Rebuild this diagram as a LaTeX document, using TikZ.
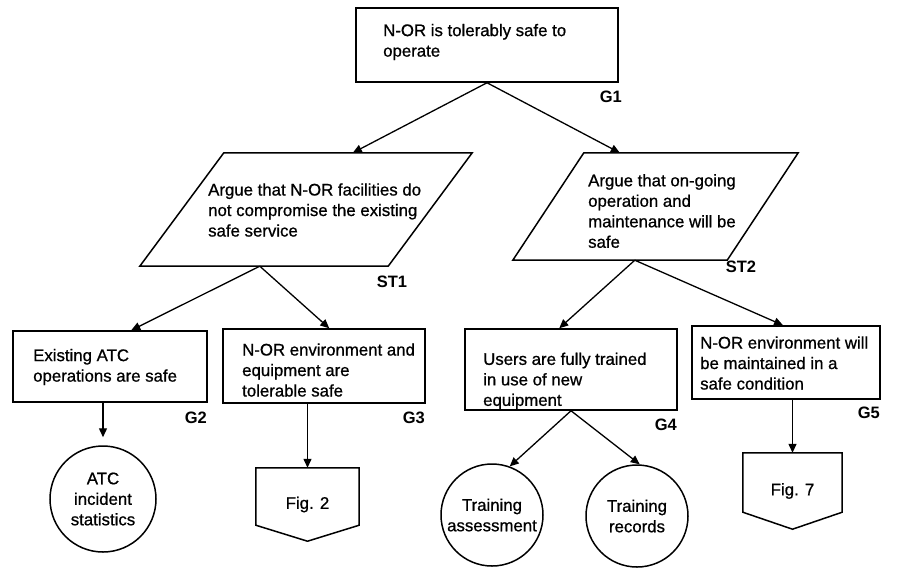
\documentclass[tikz,border=0pt]{standalone}
\usepackage{fontspec}
\setmainfont{Liberation Sans}[FakeBold=0.8]
\newfontfamily\idfont{Liberation Sans Bold}
\usetikzlibrary{arrows.meta,calc}
\begin{document}
\begin{tikzpicture}[x=1pt,y=-1pt,
  font=\fontsize{16.8}{20.5}\selectfont,
  box/.style={draw, rectangle, line width=1.5pt, inner sep=0pt},
  txt/.style={align=left, inner sep=0pt, anchor=west},
  idl/.style={font=\idfont\fontsize{16.5}{20}\selectfont, inner sep=0pt},
  frame/.style={rectangle, inner sep=0pt},
  edge/.style={line width=1.5pt, line join=miter},
  sol/.style={draw, circle, line width=1.5pt, align=center, inner sep=0pt},
  away/.style={align=center, inner sep=0pt},
  arr/.style={line width=1.3pt, -{Triangle[length=9pt,width=8pt]}}]
\useasboundingbox[fill=white] (0,0) rectangle (901,574);

% G1
\node[box, minimum width=262pt, minimum height=74pt] (g1) at (487,45) {};
\node[txt] (g1t) at (383,42) {N-OR is tolerably safe to\\operate};
\node[idl, anchor=east] (g1id) at (622,97) {G1};

% ST1 (parallelogram)
\node[frame, minimum width=332pt, minimum height=113pt] (st1) at (306,209.5) {};
\draw[edge] ([xshift=84pt]st1.north west) -- (st1.north east)
  -- ([xshift=-84pt]st1.south east) -- (st1.south west) -- cycle;
\node[txt] (st1t) at (208,210) {Argue that N-OR facilities do\\not compromise the existing\\safe service};
\node[idl] (st1id) at (392,282) {ST1};

% ST2 (parallelogram)
\node[frame, minimum width=285pt, minimum height=107pt] (st2) at (655.5,206.5) {};
\draw[edge] ([xshift=71pt]st2.north west) -- (st2.north east)
  -- ([xshift=-71pt]st2.south east) -- (st2.south west) -- cycle;
\node[txt] (st2t) at (588,211) {Argue that on-going\\operation and\\maintenance will be\\safe};
\node[idl] (st2id) at (741,267) {ST2};

% G2
\node[box, minimum width=194pt, minimum height=71pt] (g2) at (110,366.5) {};
\node[txt] (g2t) at (33,367) {Existing ATC\\operations are safe};
\node[idl, anchor=east] (g2id) at (207,418) {G2};
\node[sol, minimum size=106pt] (c1) at (103,499) {ATC\\incident\\statistics};

% G3
\node[box, minimum width=202pt, minimum height=74pt] (g3) at (324,366) {};
\node[txt] (g3t) at (242,370) {N-OR environment and\\equipment are\\tolerable safe};
\node[idl, anchor=east] (g3id) at (425,418) {G3};
\node[away, minimum width=103pt, minimum height=73pt] (f2) at (307.5,504.5) {Fig. 2};
\draw[edge] (f2.north west) -- (f2.north east) -- ([yshift=16pt]f2.south east)
  -- (f2.south) -- ([yshift=16pt]f2.south west) -- cycle;

% G4
\node[box, minimum width=212pt, minimum height=81pt] (g4) at (571,369.5) {};
\node[txt] (g4t) at (483,381) {Users are fully trained\\in use of new\\equipment};
\node[idl, anchor=east] (g4id) at (677,425) {G4};
\node[sol, minimum size=102pt] (c2) at (492,515) {Training\\assessment};
\node[sol, minimum size=102pt] (c3) at (637,516) {Training\\records};

% G5
\node[box, minimum width=188pt, minimum height=73pt] (g5) at (786,362.5) {};
\node[txt] (g5t) at (700,363) {N-OR environment will\\be maintained in a\\safe condition};
\node[idl, anchor=east] (g5id) at (880,413) {G5};
\node[away, minimum width=99pt, minimum height=76pt] (f7) at (792.5,491) {Fig. 7};
\draw[edge] (f7.north west) -- (f7.north east) -- ([yshift=17pt]f7.south east)
  -- (f7.south) -- ([yshift=17pt]f7.south west) -- cycle;

% connectors
\draw[arr] (g1.south) -- ([xshift=213pt]st1.north west);
\draw[arr] (g1.south) -- ([xshift=107pt]st2.north west);
\draw[arr] ([xshift=120pt]st1.south west) -- ([xshift=119pt]g2.north west);
\draw[arr] ([xshift=120pt]st1.south west) -- ([xshift=107pt]g3.north west);
\draw[arr] ([xshift=122pt]st2.south west) -- ([xshift=95pt]g4.north west);
\draw[arr] ([xshift=122pt]st2.south west) -- ([xshift=-3pt]g5.north);
\draw[arr, shorten >=8pt] (g2.south -| c1.north) -- (c1.north);
\draw[arr] (g3.south -| f2.north) -- (f2.north);
\draw[arr] (g4.south) -- (c2.70);
\draw[arr] (g4.south) -- (c3.87);
\draw[arr] (g5.south -| f7.north) -- (f7.north);
\end{tikzpicture}
\end{document}
